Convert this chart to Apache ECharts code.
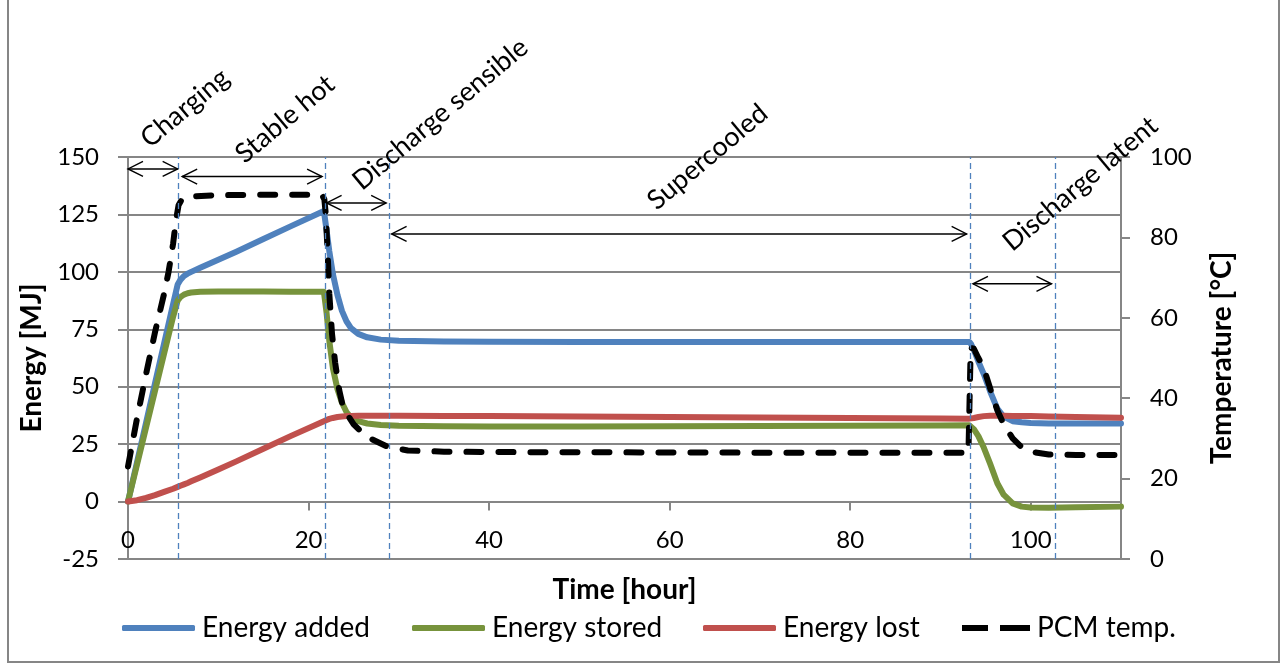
<!DOCTYPE html>
<html><head><meta charset="utf-8">
<script src="https://cdn.jsdelivr.net/npm/echarts/dist/echarts.min.js"></script>
<style>html,body{margin:0;padding:0;background:#fff}#c{width:1286px;height:666px}</style>
</head><body><div id="c"></div>
<script>
// ---- data ----
const hoursEnergy = [0,1,2,3,4,5,5.5,5.8,6.2,6.6,7,8,10,12,15,18,21.7,22,22.3,22.7,23.2,23.7,24.2,24.7,25.5,26.5,28,30,35,40,50,60,70,80,90,93.2,93.4,93.7,94.2,94.8,95.5,96.3,97,98,99,100,102,105,110];
const energyAdded = [0,17.2,34.4,51.6,68.8,86,94.5,96.5,98.2,99.2,100,101.8,105.3,108.8,114.3,119.8,126.5,
  118,109,99,90,83,78.5,75.5,73,71.5,70.5,70,69.7,69.6,69.5,69.5,69.5,69.5,69.5,
  69.5,68.5,66,61,55.5,48,40.5,37,35,34.5,34.2,34,34,34];
const energyStored = [0,16.1,32.2,48.3,64.4,80.5,87.5,89,90.1,90.7,91,91.3,91.4,91.4,91.4,91.3,91.3,
  82,70,58,49,43,39,36.5,35,34,33.3,33,32.8,32.7,32.7,32.8,32.9,33,33.1,
  33.2,33,31.5,28.5,23.5,16.5,8,3,-0.8,-2.2,-2.6,-2.7,-2.5,-2.2];
const energyLost = [0,0.6,1.6,2.8,4.2,5.6,6.4,6.9,7.5,8.1,8.8,10.5,14,17.5,23,28.5,35,
  35.5,36,36.4,36.8,37,37.2,37.3,37.4,37.4,37.4,37.4,37.3,37.2,37,36.8,36.6,36.4,36.2,
  36.1,36.1,36.4,36.8,37.2,37.4,37.4,37.4,37.3,37.3,37.2,37,36.8,36.5];
const hoursTemp = [0,0.5,1,2,3,4,4.5,5,5.3,5.6,6,7,10,15,20,21.5,21.75,21.9,22.1,22.3,22.6,22.95,23.4,23.8,24.2,25,25.9,27,28.7,31,35,40,60,80,93.1,93.35,93.7,94.2,94.8,95.5,96.3,97,98,99,100,102,105,110];
const pcmTemp = [23,29,35,46,56.5,66,71.5,78.5,84,88,89.6,90.2,90.5,90.6,90.6,90.5,89.5,86,77,66,
  56,48.8,42,38,36.3,33.5,31.5,29.8,28,27,26.7,26.6,26.5,26.4,26.4,52.5,52.3,50,47.5,42.5,
  37,33.5,30,27.8,26.7,26,25.9,25.9];
const seriesNames = ['Energy added','Energy stored','Energy lost','PCM temp.'];
// phase annotations (hours / MJ on the left axis)
const phaseBoundaries = [5.6, 21.85, 28.9, 93.25, 102.7];
const phaseLabels = ['Charging','Stable hot','Discharge sensible','Supercooled','Discharge latent'];
const phaseArrowStart = [0, 6.0, 22.0, 29.2, 93.6];
const phaseArrowEnd = [5.5, 21.5, 28.6, 92.9, 102.3];
const phaseArrowLevel = [144.8, 141.5, 130, 116.5, 94.8];
const phaseLabelHour = [6.3, 17.4, 34.6, 64.2, 105.5];
const phaseLabelLevel = [171.3, 166.5, 168.7, 150, 138.3];

// ---- chart ----
const FONT = 'Lato, "Liberation Sans", sans-serif';
const GRAY = '#868686';
const COLORS = ['#4f81bd', '#77933c', '#c0504d', '#000000'];
const pair = (xs, ys) => xs.map((x, i) => [x, ys[i]]);
const chart = echarts.init(document.getElementById('c'), null, {renderer: 'canvas'});
const lineSeries = (name, xs, ys, color, extra) => Object.assign({
  name, type: 'line', data: pair(xs, ys), symbol: 'none', showSymbol: false, smooth: false,
  lineStyle: {color, width: 6, cap: 'round', join: 'round'},
  itemStyle: {color}
}, extra || {});
const titleStyle = {fontFamily: FONT, fontWeight: 'bold', fontSize: 28, color: '#000'};
const tickLabel = {fontFamily: FONT, fontSize: 24, color: '#000'};
const legendLeft = [122, 412, 703, 962];
const legendIcons = ['roundRect', 'roundRect', 'roundRect', 'path://M0,0H26V6H0Z M38,0H68V6H38Z'];
const legendWidth = [73, 73, 73, 68];

const option = {
  animation: false,
  backgroundColor: '#fff',
  grid: {left: 128, right: 165, top: 157, bottom: 107, outerBoundsMode: 'none'},
  legend: seriesNames.map((n, i) => ({
    left: legendLeft[i], top: 614, padding: 0, itemWidth: legendWidth[i], itemHeight: 6,
    textStyle: {fontFamily: FONT, fontSize: 28, color: '#000', padding: [0, 0, 0, 2]},
    selectedMode: false,
    data: [{name: n, icon: legendIcons[i]}]
  })),
  xAxis: [{
    type: 'value', min: 0, max: 110, interval: 20, position: 'bottom',
    name: 'Time [hour]', nameLocation: 'middle', nameGap: 17, nameMoveOverlap: false,
    nameTextStyle: titleStyle,
    axisLine: {show: true, onZero: false, lineStyle: {color: GRAY, width: 2}},
    axisTick: {show: false},
    axisLabel: Object.assign({inside: true, margin: 7, showMaxLabel: false}, tickLabel),
    splitLine: {show: false}
  }, {
    type: 'value', min: 0, max: 110, interval: 20, position: 'bottom', offset: 0,
    axisLine: {show: false, onZero: false},
    axisTick: {show: true, length: 9, lineStyle: {color: GRAY, width: 2}},
    axisLabel: {show: false},
    splitLine: {show: false}
  }],
  yAxis: [{
    type: 'value', min: -25, max: 150, interval: 25, position: 'left',
    name: 'Energy [MJ]', nameLocation: 'middle', nameGap: 82, nameMoveOverlap: false,
    nameTextStyle: titleStyle,
    axisLine: {show: true, onZero: false, lineStyle: {color: GRAY, width: 2}},
    axisTick: {show: true, length: 10, lineStyle: {color: GRAY, width: 2}},
    axisLabel: Object.assign({margin: 29}, tickLabel),
    splitLine: {show: true, lineStyle: {color: GRAY, width: 2}}
  }, {
    type: 'value', min: 0, max: 100, interval: 20, position: 'right',
    name: 'Temperature [°C]', nameLocation: 'middle', nameGap: 87, nameMoveOverlap: false,
    nameTextStyle: titleStyle,
    axisLine: {show: true, onZero: false, lineStyle: {color: GRAY, width: 2}},
    axisTick: {show: true, length: 9, lineStyle: {color: GRAY, width: 2}},
    axisLabel: Object.assign({margin: 29}, tickLabel),
    splitLine: {show: false}
  }],
  series: [
    lineSeries(seriesNames[0], hoursEnergy, energyAdded, COLORS[0], {
      markLine: {
        silent: true, symbol: ['none', 'none'], label: {show: false},
        lineStyle: {color: '#4f81bd', type: [6, 4], width: 1.3},
        emphasis: {disabled: true},
        data: phaseBoundaries.map(h => ({xAxis: h}))
      }
    }),
    lineSeries(seriesNames[1], hoursEnergy, energyStored, COLORS[1]),
    lineSeries(seriesNames[2], hoursEnergy, energyLost, COLORS[2]),
    lineSeries(seriesNames[3], hoursTemp, pcmTemp, COLORS[3], {
      yAxisIndex: 1,
      lineStyle: {color: '#000', width: 6, type: [15, 17], cap: 'round', join: 'round'}
    })
  ]
};
chart.setOption(option);

// ---- tick axis placed on the zero line of the energy axis ----
const toPx = (t, e) => chart.convertToPixel({xAxisIndex: 0, yAxisIndex: 0}, [t, e]);
const zeroOffset = toPx(0, 0)[1] - toPx(0, -25)[1];
chart.setOption({xAxis: [{}, {offset: zeroOffset}]});

// ---- phase annotations, positioned through the axes ----
const graphics = [{
  type: 'rect', silent: true, z: 100,
  shape: {x: 8, y: -10, width: 1271, height: 672},
  style: {fill: 'none', stroke: GRAY, lineWidth: 2}
}];
const HEAD = 15, HALF = 7.5;
phaseLabels.forEach((label, i) => {
  const a = toPx(phaseArrowStart[i], phaseArrowLevel[i]);
  const b = toPx(phaseArrowEnd[i], phaseArrowLevel[i]);
  const st = {stroke: '#000', lineWidth: 1.4, fill: 'none'};
  graphics.push({type: 'polyline', silent: true, z: 50, shape: {points: [a, b]}, style: st});
  graphics.push({type: 'polyline', silent: true, z: 50,
    shape: {points: [[a[0] + HEAD, a[1] - HALF], a, [a[0] + HEAD, a[1] + HALF]]}, style: st});
  graphics.push({type: 'polyline', silent: true, z: 50,
    shape: {points: [[b[0] - HEAD, b[1] - HALF], b, [b[0] - HEAD, b[1] + HALF]]}, style: st});
  const p = toPx(phaseLabelHour[i], phaseLabelLevel[i]);
  graphics.push({
    type: 'text', silent: true, z: 60, x: p[0], y: p[1], rotation: 40 * Math.PI / 180,
    style: {text: label, fill: '#000', font: '27px ' + FONT,
      align: 'center', verticalAlign: 'middle', textAlign: 'center', textVerticalAlign: 'middle'}
  });
});
chart.setOption({graphic: graphics});
</script>
</body></html>
